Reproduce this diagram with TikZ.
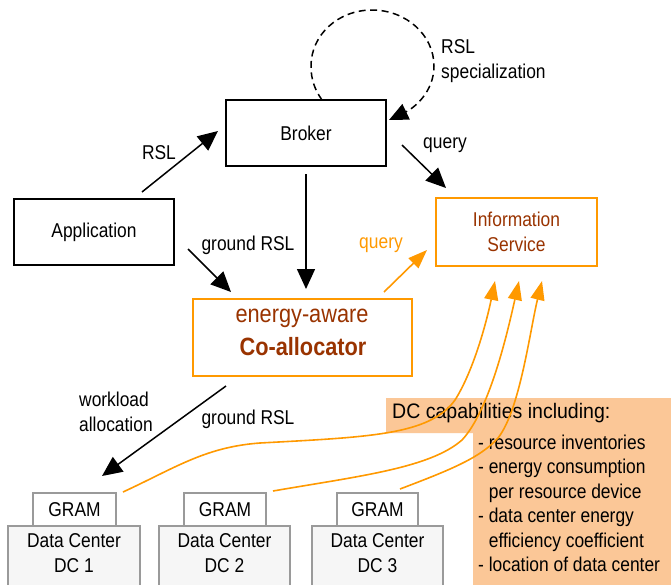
\documentclass[tikz,border=0pt]{standalone}
\usepackage{fontspec}
\setmainfont{Liberation Sans}[FakeStretch=0.87]
\newfontfamily\hdrfont{Liberation Sans}[FakeStretch=0.93]
\usetikzlibrary{arrows.meta}
\definecolor{orng}{HTML}{FF9900}
\definecolor{brwn}{HTML}{993300}
\definecolor{peach}{HTML}{FBC797}
\definecolor{dcfill}{HTML}{F6F6F6}
\definecolor{dcline}{HTML}{9A9A9A}
\begin{document}
\begin{tikzpicture}[x=1pt,y=-1pt,
  txt/.style={font=\fontsize{20}{25}\selectfont, inner sep=0pt, align=center},
  blackbox/.style={txt, draw=black, line width=1.8pt, minimum width=160pt, minimum height=66pt},
  obox/.style={txt, draw=orng, line width=2.2pt, text=brwn},
  gram/.style={txt, draw=dcline, fill=white, line width=1.4pt, minimum height=33pt},
  dcbox/.style={draw=dcline, fill=dcfill, line width=1.4pt, minimum height=64pt, inner sep=0pt},
  arr/.style={-{Triangle[length=20pt,width=18pt]}, line width=1.5pt, black},
  oarr/.style={-{Triangle[length=19pt,width=14pt]}, line width=1.6pt, orng},
  loop/.style={-{Triangle[length=19pt,width=17pt]}, line width=1.5pt, dash pattern=on 7pt off 4.5pt}
]
\useasboundingbox (0,0) rectangle (671,584);
\fill[white] (0,0) rectangle (671,584);

% main boxes
\node[blackbox] (broker) at (306,133) {Broker};
\node[blackbox] (app) at (94,232) {Application};
\node[obox, minimum width=161pt, minimum height=68pt] (info) at (516.5,232) {Information\\Service};
\node[obox, line width=2.6pt, minimum width=219pt, minimum height=77pt] (coalloc) at (302.5,337.5) {};
\node[txt, text=brwn, font=\fontsize{25}{30}\selectfont] (ea) at (302,318) {energy-aware};
\node[txt, text=brwn, font=\fontsize{25}{30}\selectfont\bfseries] (ca) at (303,347) {Co-allocator};

% data centers
\node[dcbox, minimum width=132pt] (d1) at (74,558) {};
\node[dcbox, minimum width=131pt] (d2) at (224.5,558) {};
\node[dcbox, minimum width=131pt] (d3) at (377.5,558) {};
\node[txt] (d1t) at (74,553) {Data Center\\DC 1};
\node[txt] (d2t) at (224.5,553) {Data Center\\DC 2};
\node[txt] (d3t) at (377.5,553) {Data Center\\DC 3};
\node[gram, minimum width=83pt] (g1) at (74.5,509.5) {GRAM};
\node[gram, minimum width=82pt] (g2) at (225,509.5) {GRAM};
\node[gram, minimum width=81pt] (g3) at (377.5,509.5) {GRAM};

% note
\fill[peach] (386,398) -- (671,398) -- (671,586) -- (473,586) -- (473,433) -- (386,433) -- cycle;
\node[inner sep=0pt, anchor=west, font=\hdrfont\fontsize{21}{25}\selectfont] (hdr) at (392,413) {DC capabilities including:};
\node[inner sep=0pt, anchor=west, align=left, font=\fontsize{20}{24.5}\selectfont] (items) at (478,503.5)
  {- resource inventories\\
   - energy consumption\\
   \phantom{- }per resource device\\
   - data center energy\\
   \phantom{- }efficiency coefficient\\
   - location of data center};

% black arrows
\coordinate (a1s) at (142,192); \coordinate (a1e) at (218,131);
\draw[arr] (a1s) -- (a1e);
\node[txt] (rsl) at (159,153) {RSL};
\coordinate (q1s) at (402,145); \coordinate (q1e) at (446,188);
\draw[arr] (q1s) -- (q1e);
\node[txt] (q1) at (445,145) {query};
\coordinate (b1s) at (306,174); \coordinate (b1e) at (306,289);
\draw[arr] (b1s) -- (b1e);
\coordinate (gr1s) at (188,249); \coordinate (gr1e) at (231,292);
\draw[arr] (gr1s) -- (gr1e);
\node[txt] (grl1) at (248,245) {ground RSL};
\coordinate (w1s) at (226,386); \coordinate (w1e) at (102,476);
\draw[arr] (w1s) -- (w1e);
\node[txt, anchor=west, align=left] (wl) at (79,412) {workload\\allocation};
\node[txt] (grl2) at (248,419) {ground RSL};

% self loop
\coordinate (ls) at (322,100); \coordinate (le) at (389,120);
\draw[loop] (ls) .. controls (315,90) and (311,80) .. (311,66)
  .. controls (311,35) and (338,10) .. (372,10)
  .. controls (406,10) and (434,35) .. (434,66)
  .. controls (434,92) and (414,108) .. (le);
\node[txt, anchor=west, align=left] (rsls) at (441,61) {RSL\\specialization};

% orange arrows
\coordinate (oqs) at (384,292); \coordinate (oqe) at (427,250);
\draw[oarr] (oqs) -- (oqe);
\node[txt, text=orng] (oq) at (381,245) {query};
\coordinate (c1s) at (123,492); \coordinate (c1e) at (495,281);
\coordinate (c2s) at (273,491); \coordinate (c2e) at (519,281);
\coordinate (c3s) at (400,489); \coordinate (c3e) at (542,281);
\draw[oarr] (c1s) .. controls (175,468) and (205,447) .. (260,443)
  .. controls (370,437) and (430,435) .. (455,400)
  .. controls (474,370) and (487,320) .. (c1e);
\draw[oarr] (c2s) .. controls (360,476) and (430,468) .. (462,440)
  .. controls (490,410) and (508,330) .. (c2e);
\draw[oarr] (c3s) .. controls (450,470) and (480,458) .. (498,438)
  .. controls (520,410) and (530,330) .. (c3e);
\end{tikzpicture}
\end{document}
